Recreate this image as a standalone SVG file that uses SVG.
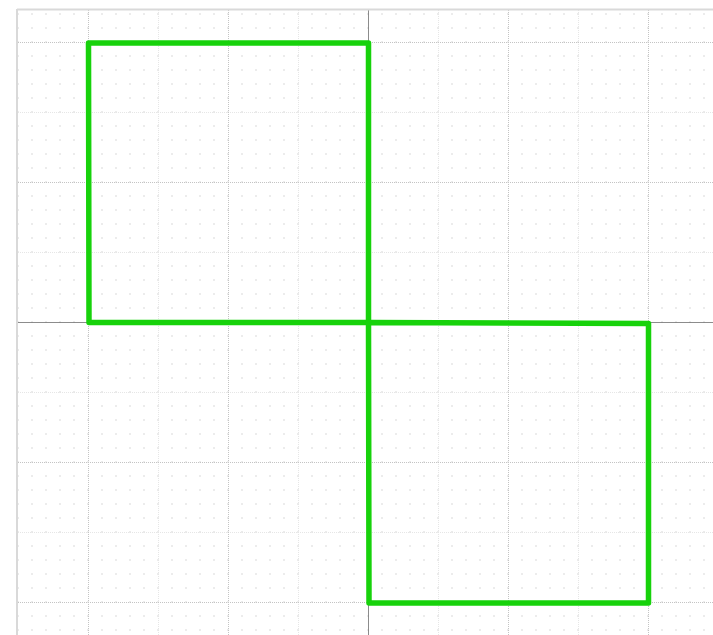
<svg xmlns="http://www.w3.org/2000/svg" width="713" height="635" viewBox="0 0 713 635">
  <defs>
    <pattern id="dots" patternUnits="userSpaceOnUse" x="3.5" y="-0.5" width="14" height="14">
      <rect x="0" y="0" width="1" height="1" fill="#b4b4b4"/>
    </pattern>
    <style>
      .major { stroke: #c4c4c4; stroke-width: 1; stroke-dasharray: 1 1; fill: none; }
      .minor { stroke: #e6e6e6; stroke-width: 1; stroke-dasharray: 1 1; fill: none; }
      .axis { stroke: #6e6e6e; stroke-width: 0.8; fill: none; }
      .shape { stroke: #17d20b; stroke-width: 5.5; fill: none; stroke-linejoin: round; stroke-linecap: round; }
    </style>
  </defs>
  <rect width="713" height="635" fill="#ffffff"/>
  <g id="grid">
    <rect x="18" y="10" width="695" height="625" fill="url(#dots)"/>
    <g class="minor">
      <line x1="158.5" y1="10" x2="158.5" y2="635"/>
      <line x1="298.5" y1="10" x2="298.5" y2="635"/>
      <line x1="438.5" y1="10" x2="438.5" y2="635"/>
      <line x1="578.5" y1="10" x2="578.5" y2="635"/>
      <line x1="18" y1="112.5" x2="713" y2="112.5"/>
      <line x1="18" y1="252.5" x2="713" y2="252.5"/>
      <line x1="18" y1="392.5" x2="713" y2="392.5"/>
      <line x1="18" y1="532.5" x2="713" y2="532.5"/>
    </g>
    <g class="major">
      <line x1="88.5" y1="10" x2="88.5" y2="635"/>
      <line x1="228.5" y1="10" x2="228.5" y2="635"/>
      <line x1="508.5" y1="10" x2="508.5" y2="635"/>
      <line x1="648.5" y1="10" x2="648.5" y2="635"/>
      <line x1="18" y1="42.5" x2="713" y2="42.5"/>
      <line x1="18" y1="182.5" x2="713" y2="182.5"/>
      <line x1="18" y1="462.5" x2="713" y2="462.5"/>
      <line x1="18" y1="602.5" x2="713" y2="602.5"/>
    </g>
    <g class="axis">
      <line x1="368.5" y1="10" x2="368.5" y2="635"/>
      <line x1="18" y1="322.5" x2="713" y2="322.5"/>
    </g>
    <line x1="17" y1="9.5" x2="713" y2="9.5" stroke="#d9d9d9" stroke-width="2"/>
    <line x1="17" y1="9" x2="17" y2="635" stroke="#d9d9d9" stroke-width="2"/>
  </g>
  <g id="square-top-left">
    <polyline class="shape" points="368.5,322.5 368.5,43 88.5,43 89,322.5 368.5,322.5"/>
  </g>
  <g id="square-bottom-right">
    <polyline class="shape" points="368.5,322.5 648.5,323.5 648.5,603 369,603 368.5,322.5"/>
  </g>
</svg>
